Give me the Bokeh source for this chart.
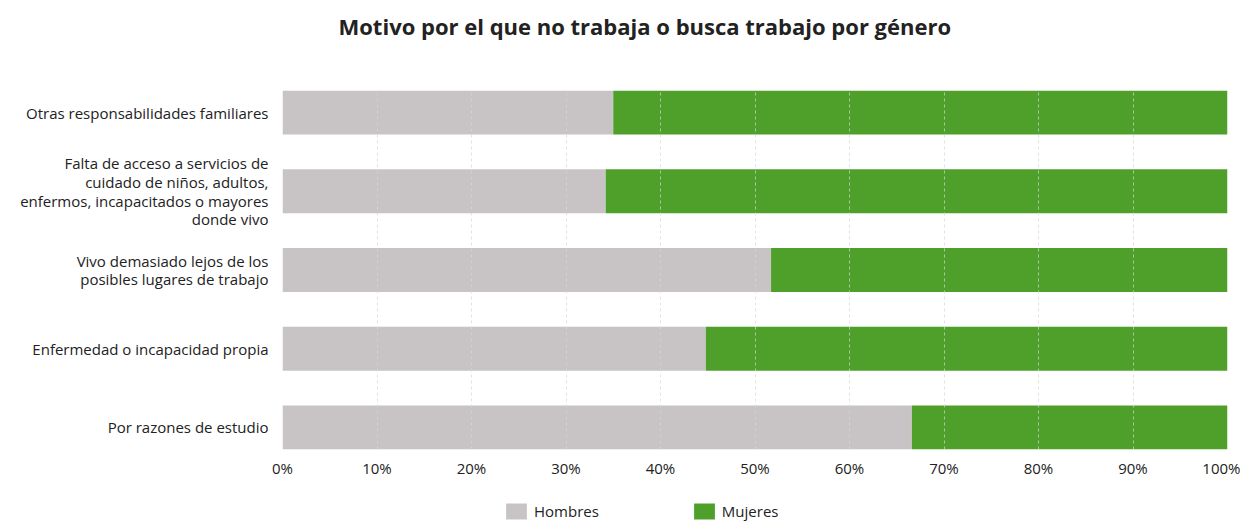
from bokeh.plotting import figure
from bokeh.layouts import column
from bokeh.models import (ColumnDataSource, Range1d, FixedTicker,
                          PrintfTickFormatter, Legend, LegendItem, Label)
from bokeh.embed import file_html
from bokeh.resources import INLINE

categories = [
    "Por razones de estudio",
    "Enfermedad o incapacidad propia",
    "Vivo demasiado lejos de los\nposibles lugares de trabajo",
    "Falta de acceso a servicios de\ncuidado de niños, adultos,\nenfermos, incapacitados o mayores\ndonde vivo",
    "Otras responsabilidades familiares",
]
hombres = [66.6, 44.8, 51.7, 34.2, 35.0]
mujeres = [33.4, 55.2, 48.3, 65.8, 65.0]
series = ["Hombres", "Mujeres"]
colors = ["#c8c4c5", "#4fa02a"]
ticks = [0, 10, 20, 30, 40, 50, 60, 70, 80, 90, 100]
title_text = "Motivo por el que no trabaja o busca trabajo por género"

FONT = "Open Sans"
TXT = "#222222"
W = 1240

ypos = list(range(len(categories)))
src = ColumnDataSource(dict(y=ypos, Hombres=hombres, Mujeres=mujeres))


def strip(h):
    f = figure(width=W, height=h, output_backend="svg", toolbar_location=None,
               x_axis_type=None, y_axis_type=None, x_range=Range1d(0, 1), y_range=Range1d(0, 1),
               min_border_left=0, min_border_right=0, min_border_top=0, min_border_bottom=0)
    f.outline_line_color = None
    f.xgrid.visible = False
    f.ygrid.visible = False
    return f


# title strip
tp = strip(50)
tp.add_layout(Label(x=56, y=0.5, x_units="screen", text=title_text, text_font=FONT,
                    text_font_size="22px", text_font_style="bold", text_color=TXT,
                    text_baseline="middle", text_align="left"))

# main chart
p = figure(width=W, height=435, output_backend="svg", toolbar_location=None,
           y_range=Range1d(-0.28, len(categories) - 1 + 0.28),
           x_range=Range1d(0, 100),
           min_border_left=282, min_border_right=13, min_border_top=40, min_border_bottom=36)

r = p.hbar_stack(series, y="y", height=0.56, source=src, color=colors, line_width=0)

p.outline_line_color = None
p.background_fill_color = "white"

p.xaxis.ticker = FixedTicker(ticks=ticks)
p.xaxis.formatter = PrintfTickFormatter(format="%d%%")
p.yaxis.ticker = FixedTicker(ticks=ypos)
p.yaxis.major_label_overrides = {i: c for i, c in zip(ypos, categories)}
for ax in (p.xaxis, p.yaxis):
    ax.axis_line_color = None
    ax.major_tick_line_color = None
    ax.minor_tick_line_color = None
    ax.major_label_text_font = FONT
    ax.major_label_text_font_size = "15px"
    ax.major_label_text_color = TXT
p.xaxis.major_label_standoff = 2
p.yaxis.major_label_standoff = 8
p.yaxis.major_label_text_line_height = 0.93

p.ygrid.grid_line_color = None
p.xgrid.grid_line_color = "#d6d6d6"
p.xgrid.grid_line_alpha = 0.7
p.xgrid.grid_line_dash = "3 3"
p.xgrid.level = "overlay"

# legend strip below the chart (bars drawn out of view; only the legend shows)
lg = strip(36)
lg.y_range = Range1d(100, 101)
lr = lg.hbar_stack(series, y="y", height=0.56, source=src, color=colors, line_width=0)
legend = Legend(items=[LegendItem(label=s, renderers=[rr]) for s, rr in zip(series, lr)],
                orientation="horizontal", location=(221, 0),
                glyph_width=26, glyph_height=20, label_standoff=5, spacing=92,
                label_text_font=FONT, label_text_font_size="15px", label_text_color=TXT,
                border_line_color=None, background_fill_alpha=0, padding=0, margin=0)
lg.add_layout(legend, "center")

layout = column(tp, p, lg, spacing=0)
open("out.html", "w").write(file_html(layout, INLINE))
